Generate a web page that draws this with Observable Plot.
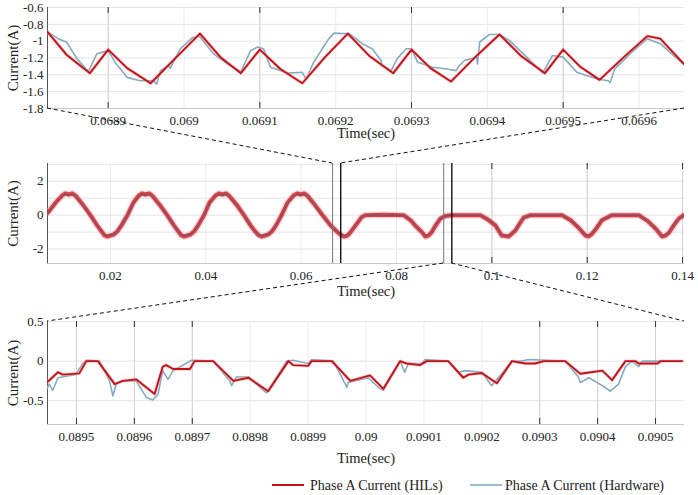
<!DOCTYPE html>
<html><head><meta charset="utf-8">
<script src="https://cdn.jsdelivr.net/npm/d3@7"></script>
<script src="https://cdn.jsdelivr.net/npm/@observablehq/plot@0.6"></script>
<style>
html,body{margin:0;padding:0;background:#fff;}
#wrap{position:relative;width:698px;height:495px;overflow:hidden;font-family:"Liberation Serif","Times New Roman",serif;}
#wrap svg{position:absolute;left:0;}
</style></head><body><div id="wrap"></div>
<script>
// ---------- Top panel (zoom of 0.06882 - 0.06966 s) ----------
const topXTicks = [0.0689, 0.069, 0.0691, 0.0692, 0.0693, 0.0694, 0.0695, 0.0696];
const topYTicks = [-1.8, -1.6, -1.4, -1.2, -1, -0.8, -0.6];
const topMarked = [0.0689, 0.0691, 0.0693, 0.0695];
const hilTopTime = [0.068820,0.068845,0.068876,0.068900,0.068925,0.068956,0.068990,0.069021,0.069048,0.069075,0.069100,0.069127,0.069156,0.069186,0.069216,0.069245,0.069276,0.069300,0.069325,0.069352,0.069384,0.069416,0.069445,0.069476,0.069500,0.069522,0.069548,0.069580,0.069611,0.069628,0.069659];
const hilTopCurrent = [-0.89,-1.16,-1.38,-1.10,-1.32,-1.50,-1.19,-0.91,-1.19,-1.38,-1.10,-1.33,-1.50,-1.19,-0.91,-1.18,-1.38,-1.10,-1.32,-1.48,-1.19,-0.92,-1.18,-1.38,-1.10,-1.30,-1.46,-1.19,-0.94,-0.97,-1.27];
const hwTopTime = [0.068820,0.068834,0.068845,0.068859,0.068874,0.068885,0.068893,0.068900,0.068909,0.068925,0.068942,0.068960,0.068964,0.068969,0.068979,0.068982,0.068995,0.069011,0.069020,0.069039,0.069057,0.069075,0.069088,0.069097,0.069105,0.069114,0.069137,0.069156,0.069161,0.069171,0.069191,0.069198,0.069211,0.069218,0.069235,0.069248,0.069260,0.069261,0.069273,0.069281,0.069293,0.069300,0.069308,0.069328,0.069346,0.069359,0.069363,0.069370,0.069386,0.069387,0.069390,0.069403,0.069416,0.069429,0.069452,0.069473,0.069486,0.069500,0.069518,0.069545,0.069559,0.069562,0.069568,0.069584,0.069588,0.069611,0.069628,0.069658];
const hwTopCurrent = [-0.89,-0.97,-1.01,-1.21,-1.36,-1.15,-1.13,-1.11,-1.25,-1.43,-1.47,-1.47,-1.51,-1.35,-1.29,-1.32,-1.09,-0.96,-0.94,-1.15,-1.27,-1.36,-1.11,-1.07,-1.09,-1.31,-1.38,-1.37,-1.45,-1.25,-0.97,-0.905,-0.91,-0.91,-1.03,-1.09,-1.23,-1.29,-1.35,-1.21,-1.09,-1.09,-1.25,-1.31,-1.33,-1.35,-1.29,-1.23,-1.19,-1.27,-1.01,-0.92,-0.92,-0.99,-1.19,-1.38,-1.17,-1.19,-1.37,-1.45,-1.47,-1.49,-1.33,-1.19,-1.15,-0.97,-1.03,-1.27];

// ---------- Middle panel (overview) ----------
const midXTicks = [0.02, 0.04, 0.06, 0.08, 0.1, 0.12, 0.14];
const midYTicks = [-2, 0, 2];
const midGridY = [-2, -1, 0, 1, 2, 3];
const midMarked = [0.1, 0.12, 0.14];
const zoomStartLines = [0.0666, 0.0899];
const zoomEndLines = [0.0683, 0.0916];
const overviewTime = [0.00691,0.00852,0.00986,0.01056,0.01125,0.01203,0.01266,0.01440,0.01580,0.01721,0.01811,0.01874,0.01931,0.02000,0.02063,0.02147,0.02231,
0.02357,0.02483,0.02596,0.02665,0.02735,0.02812,0.02875,0.03049,0.03190,0.03331,0.03421,0.03484,0.03540,0.03610,0.03673,0.03757,0.03840,
0.03962,0.04078,0.04204,0.04275,0.04344,0.04422,0.04485,0.04665,0.04800,0.04938,0.05033,0.05106,0.05169,0.05242,0.05305,0.05389,0.05473,
0.05589,0.05715,0.05841,0.05918,0.05987,0.06065,0.06128,0.06302,0.06449,0.06617,0.06743,0.06827,0.06900,0.06974,0.07037,0.07142,0.07268,0.07345,
0.07700,0.08149,0.08296,0.08422,0.08533,0.08604,0.08674,0.08737,0.08821,0.08919,0.09024,0.09156,
0.09759,0.09912,0.10073,0.10206,0.10353,0.10493,0.10583,0.10667,0.10808,
0.11471,0.11653,0.11821,0.11962,0.12031,0.12101,0.12199,0.12304,0.12514,
0.13081,0.13270,0.13437,0.13570,0.13637,0.13710,0.13815,0.13920,0.14025];
const overviewHIL = [0.15,0.75,1.16,1.28,1.22,1.28,1.16,0.55,0.0,-0.6,-0.95,-1.18,-1.26,-1.2,-1.15,-0.95,-0.6,
0.0,0.75,1.16,1.28,1.22,1.28,1.16,0.55,0.0,-0.6,-0.95,-1.18,-1.26,-1.2,-1.15,-0.95,-0.6,
0.0,0.75,1.16,1.28,1.22,1.28,1.16,0.55,0.0,-0.6,-0.95,-1.18,-1.26,-1.2,-1.15,-0.95,-0.6,
0.0,0.75,1.16,1.28,1.22,1.28,1.16,0.55,0.0,-0.6,-0.95,-1.15,-1.26,-1.2,-1.0,-0.6,-0.12,0.0,
0.02,0.0,-0.3,-0.7,-1.0,-1.26,-1.2,-1.0,-0.6,-0.2,-0.05,0.0,
0.0,-0.25,-0.6,-1.2,-1.26,-0.9,-0.5,-0.15,0.0,
0.0,-0.3,-0.75,-1.2,-1.25,-1.1,-0.75,-0.3,0.0,
0.0,-0.35,-0.8,-1.26,-1.2,-1.05,-0.6,-0.2,0.0];
const overviewHW = [0.12,0.72,1.12,1.24,1.18,1.24,1.12,0.52,-0.02,-0.62,-0.95,-1.16,-1.22,-1.16,-1.12,-0.93,-0.58,
-0.02,0.72,1.12,1.24,1.18,1.24,1.12,0.52,-0.02,-0.62,-0.95,-1.16,-1.22,-1.16,-1.12,-0.93,-0.58,
-0.02,0.72,1.12,1.24,1.18,1.24,1.12,0.52,-0.02,-0.62,-0.95,-1.16,-1.22,-1.16,-1.12,-0.93,-0.58,
-0.02,0.72,1.12,1.24,1.18,1.24,1.12,0.52,-0.02,-0.62,-0.95,-1.12,-1.22,-1.16,-0.98,-0.58,-0.12,0.0,
0.0,0.0,-0.3,-0.68,-0.98,-1.2,-1.16,-0.98,-0.58,-0.2,-0.05,0.0,
0.0,-0.25,-0.58,-1.16,-1.2,-0.88,-0.48,-0.15,0.0,
0.0,-0.3,-0.72,-1.16,-1.2,-1.06,-0.72,-0.3,0.0,
0.0,-0.34,-0.78,-1.2,-1.16,-1.02,-0.58,-0.2,0.0];

// ---------- Bottom panel (zoom of 0.08945 - 0.09055 s) ----------
const botXTicks = [0.0895,0.0896,0.0897,0.0898,0.0899,0.09,0.0901,0.0902,0.0903,0.0904,0.0905];
const botYTicks = [-0.5, 0, 0.5];
const botMarked = [0.0895,0.0896,0.0897,0.0903,0.0904,0.0905];
const hilBotTime = [0.089449,0.089468,0.089476,0.089505,0.089517,0.089537,0.089566,0.089580,0.089603,0.089635,0.089649,0.089655,0.089667,0.089696,0.089704,0.089736,0.089771,0.089797,0.089831,0.089866,0.089874,0.089900,0.089906,0.089941,0.089973,0.090007,0.090030,0.090059,0.090070,0.090093,0.090105,0.090142,0.090168,0.090177,0.090200,0.090226,0.090252,0.090275,0.090292,0.090307,0.090344,0.090370,0.090408,0.090425,0.090448,0.090465,0.090471,0.090503,0.090509,0.090546];
const hilBotCurrent = [-0.27,-0.14,-0.17,-0.155,0.0,0.0,-0.29,-0.25,-0.23,-0.415,-0.07,-0.05,-0.1,-0.1,0.0,0.0,-0.25,-0.21,-0.38,0.0,-0.05,-0.06,0.0,0.0,-0.25,-0.18,-0.35,0.0,-0.03,-0.05,0.0,0.0,-0.21,-0.17,-0.15,-0.28,0.0,-0.03,-0.03,0.0,0.0,-0.16,-0.12,-0.24,0.0,0.0,-0.03,-0.03,0.0,0.0];
const hwBotTime = [0.089449,0.089453,0.089459,0.089468,0.089499,0.089511,0.089517,0.089540,0.089557,0.089563,0.089569,0.089580,0.089603,0.089621,0.089632,0.089641,0.089649,0.089658,0.089667,0.089699,0.089736,0.089765,0.089768,0.089776,0.089797,0.089828,0.089863,0.089874,0.089900,0.089906,0.089944,0.089967,0.089969,0.090004,0.090021,0.090030,0.090059,0.090067,0.090073,0.090096,0.090102,0.090142,0.090160,0.090171,0.090200,0.090217,0.090252,0.090269,0.090281,0.090344,0.090367,0.090370,0.090385,0.090408,0.090422,0.090436,0.090448,0.090459,0.090471,0.090477,0.090546];
const hwBotCurrent = [-0.35,-0.29,-0.37,-0.21,-0.17,-0.03,0.01,0.0,-0.25,-0.44,-0.28,-0.25,-0.25,-0.46,-0.49,-0.415,-0.12,-0.23,-0.12,0.01,0.0,-0.25,-0.31,-0.2,-0.2,-0.4,0.0,0.01,-0.03,0.02,0.0,-0.33,-0.27,-0.21,-0.33,-0.37,0.0,-0.14,-0.03,-0.03,0.02,0.0,-0.14,-0.12,-0.14,-0.31,0.0,0.0,0.02,0.0,-0.2,-0.27,-0.21,-0.31,-0.38,-0.29,-0.07,0.0,-0.07,0.0,0.0];

const legendLabels = ["Phase A Current (HILs)", "Phase A Current (Hardware)"];

// ---------- build ----------
const HIL = "#c0141c", HW = "#84abc0";
const serif = '"Liberation Serif","Times New Roman",serif';
const fmt = d => String(d);
const zip = (t, v) => t.map((x, i) => ({t: x, v: v[i]}));

function panel(o) {
  const ph = o.height - o.mTop - o.mBottom;
  const p = Plot.plot({
    width: 698, height: o.height,
    marginLeft: 47, marginRight: 14, marginTop: o.mTop, marginBottom: o.mBottom,
    x: {domain: o.xDomain}, y: {domain: o.yDomain},
    style: {fontFamily: serif, fontSize: "13px", color: "#222", background: "transparent", overflow: "visible"},
    marks: [
      Plot.gridY(o.yGrid || o.yTicks, {stroke: "#e4e4e4", strokeOpacity: 1}),
      Plot.gridX(o.xTicks, {stroke: "#ececec", strokeOpacity: 1}),
      Plot.ruleX(o.marked, {stroke: "#d2d2d2"}),
      Plot.ruleX(o.marked, {stroke: "#333", insetTop: ph - 6}),
      Plot.ruleX(o.marked, {stroke: "#333", insetBottom: ph - 6}),
      Plot.ruleY([o.yDomain[0]], {stroke: "#c8c8c8"}),
      Plot.ruleX([o.xDomain[0]], {stroke: "#555"}),
      ...o.marks,
      Plot.axisX({ticks: o.xTicks, tickSize: 0, tickPadding: 7, tickFormat: fmt, label: null, fontSize: 13}),
      Plot.axisY({ticks: o.yTicks, tickSize: 0, tickPadding: 4, tickFormat: fmt, label: null, fontSize: 13}),
      Plot.text(["Time(sec)"], {text: d => d, frameAnchor: "bottom", textAnchor: "middle", dy: o.titleDy, fontSize: 14.5}),
      Plot.text(["Current(A)"], {text: d => d, frameAnchor: "left", textAnchor: "middle", dx: -34, rotate: -90, fontSize: 15})
    ]
  });
  p.style.top = o.top + "px";
  document.getElementById("wrap").appendChild(p);
  return p;
}

const p1 = panel({
  top: 0, height: 145, mTop: 7, mBottom: 37, titleDy: 29,
  xDomain: [0.06882, 0.06966], yDomain: [-1.8, -0.6],
  xTicks: topXTicks, yTicks: topYTicks, marked: topMarked,
  marks: [
    Plot.line(zip(hwTopTime, hwTopCurrent), {x: "t", y: "v", stroke: HW, strokeWidth: 1.6, clip: true}),
    Plot.line(zip(hilTopTime, hilTopCurrent), {x: "t", y: "v", stroke: "#f2a0a4", strokeWidth: 3.4, strokeOpacity: 0.5, clip: true}),
    Plot.line(zip(hilTopTime, hilTopCurrent), {x: "t", y: "v", stroke: HIL, strokeWidth: 1.9, clip: true})
  ]
});

const overview = overviewTime.map((t, i) => ({t, hil: overviewHIL[i], hw: overviewHW[i]}));
const p2 = panel({
  top: 155, height: 145, mTop: 8, mBottom: 37, titleDy: 32,
  xDomain: [0.0068, 0.1404], yDomain: [-2.85, 3.05],
  xTicks: midXTicks, yTicks: midYTicks, yGrid: midGridY, marked: midMarked,
  marks: [
    Plot.line(overview, {x: "t", y: "hil", stroke: "#ef8f96", strokeWidth: 6.5, strokeOpacity: 0.4, clip: true}),
    Plot.line(overview, {x: "t", y: "hil", stroke: "#cc2a35", strokeWidth: 4, strokeOpacity: 0.85, clip: true}),
    Plot.line(overview, {x: "t", y: "hw", stroke: "#4f5862", strokeWidth: 1, strokeOpacity: 0.75, clip: true}),
    Plot.ruleX(zoomStartLines, {stroke: "#777", strokeWidth: 1}),
    Plot.ruleX(zoomEndLines, {stroke: "#000", strokeWidth: 1.3})
  ]
});

const p3 = panel({
  top: 313, height: 156, mTop: 8, mBottom: 45, titleDy: 38,
  xDomain: [0.08945, 0.09055], yDomain: [-0.8, 0.5],
  xTicks: botXTicks, yTicks: botYTicks, marked: botMarked,
  marks: [
    Plot.line(zip(hwBotTime, hwBotCurrent), {x: "t", y: "v", stroke: HW, strokeWidth: 1.6, clip: true}),
    Plot.line(zip(hilBotTime, hilBotCurrent), {x: "t", y: "v", stroke: "#f2a0a4", strokeWidth: 3.4, strokeOpacity: 0.5, clip: true}),
    Plot.line(zip(hilBotTime, hilBotCurrent), {x: "t", y: "v", stroke: HIL, strokeWidth: 1.9, clip: true})
  ]
});

// ---------- overlay: zoom connectors + legend ----------
const ov = d3.select("#wrap").append("svg").attr("width", 698).attr("height", 495)
  .style("top", "0px").style("pointer-events", "none");
const sx = p => p.scale("x"), sy = p => p.scale("y");
const X = (p, v) => sx(p).apply(v), Y = (p, v, top) => top + sy(p).apply(v);
const d1 = sx(p1).domain, d2 = sy(p2).domain, d3x = sx(p3).domain, d3y = sy(p3).domain;
const segs = [
  [X(p1, d1[0]), Y(p1, -1.8, 0), X(p2, zoomStartLines[0]), Y(p2, d2[1], 155)],
  [X(p1, d1[1]), Y(p1, -1.8, 0), X(p2, zoomEndLines[0]), Y(p2, d2[1], 155)],
  [X(p2, zoomStartLines[1]), Y(p2, d2[0], 155), X(p3, d3x[0]), Y(p3, d3y[1], 313)],
  [X(p2, zoomEndLines[1]), Y(p2, d2[0], 155), X(p3, d3x[1]), Y(p3, d3y[1], 313)]
];
ov.selectAll("line.c").data(segs).join("line")
  .attr("x1", d => d[0]).attr("y1", d => d[1]).attr("x2", d => d[2]).attr("y2", d => d[3])
  .attr("stroke", "#111").attr("stroke-width", 1).attr("stroke-dasharray", "4,3");

const lg = ov.append("g").attr("font-family", serif).attr("font-size", 14).attr("fill", "#222");
const lx = [272, 470], tx = [310, 505], colors = [HIL, HW];
legendLabels.forEach((s, i) => {
  lg.append("line").attr("x1", lx[i]).attr("x2", lx[i] + 32).attr("y1", 485).attr("y2", 485)
    .attr("stroke", colors[i]).attr("stroke-width", i === 0 ? 2 : 1.6);
  lg.append("text").attr("x", tx[i]).attr("y", 485).attr("dy", "0.35em").text(s);
});
</script></body></html>
